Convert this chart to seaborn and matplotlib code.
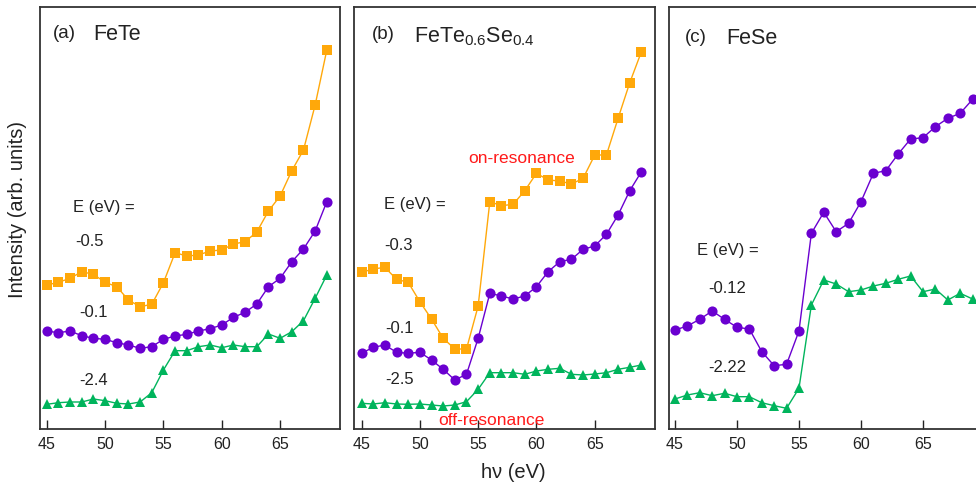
import numpy as np
import pandas as pd
import seaborn as sns
import matplotlib
matplotlib.use("Agg")
import matplotlib.pyplot as plt

sns.set_theme(style="white")
plt.rcParams['font.family'] = ['Liberation Sans', 'DejaVu Sans']
plt.rcParams['mathtext.fontset'] = 'custom'
plt.rcParams['mathtext.rm'] = 'Liberation Sans'
plt.rcParams['mathtext.it'] = 'Liberation Sans'
plt.rcParams['mathtext.default'] = 'regular'

hv = list(range(45, 70))

# Panel (a) FeTe
fete_on = [144, 146.7, 150.7, 157.3, 154.7, 146.7, 142.3, 129, 122.3, 124.7, 146.3, 176.3, 173, 174,
           178, 179, 185, 187.3, 197, 218, 233, 258.3, 279, 324, 379]
fete_mid = [98, 96.3, 98, 93.3, 90.7, 89.7, 86.3, 84, 80.7, 82.3, 89.7, 93, 94.7, 98, 100.3, 104,
            111.7, 116.7, 125, 142.3, 150.7, 167.3, 180, 198, 227.3]
fete_off = [24.7, 26.3, 27, 27, 30, 28.3, 25.7, 25, 27, 36.3, 59, 78.3, 78.3, 82.3, 84, 81.3, 84,
            82.3, 82.3, 95, 90.7, 97.3, 108.3, 130.7, 154]

# Panel (b) FeTe0.6Se0.4
fts_on = [156.7, 160, 161.7, 149.7, 146.7, 127.3, 110, 90.7, 80, 80, 123, 227.3, 223.3, 224.7, 238.3,
          255.7, 249, 248, 245, 250.7, 274, 274, 310.7, 346.3, 377.3]
fts_mid = [75.7, 81.7, 84, 76.7, 75.7, 76.7, 69, 59.7, 49, 54.7, 90.7, 135.7, 133, 130, 133, 142.3,
           157.3, 167.3, 169.7, 179.7, 183, 194.7, 214, 238.3, 257.3]
fts_off = [25.7, 25, 26.3, 25, 24.7, 25, 24, 23, 24, 27.3, 39.7, 56.3, 56.3, 56.3, 54.7, 58, 59.7,
           60.7, 54.7, 54, 55, 56.3, 59.7, 61.7, 64]

# Panel (c) FeSe
fese_on = [99, 103, 109.7, 118, 109.7, 101.7, 100, 77.3, 63.3, 64.7, 98, 195.7, 216.7, 197.3, 205.7,
           227.3, 255.7, 258.3, 275, 290, 291.3, 302.3, 310.7, 315.7, 329.7]
fese_off = [30, 34, 36.3, 33.3, 35.7, 32.3, 32.3, 26.3, 23.3, 20.7, 40.7, 124, 149, 145, 137.3, 139,
            143, 145.7, 149.7, 153, 137.3, 140, 129, 135.7, 130]

xticks = [45, 50, 55, 60, 65]

ORANGE = "#FFA80A"
PURPLE = "#6A00D0"
GREEN = "#00B45C"
TXT = "#222222"

W, H = 976, 486
fig = plt.figure(figsize=(W / 100, H / 100), dpi=100)

def add_ax(x0, w, xlim):
    ax = fig.add_axes([x0 / W, 1 - 429 / H, w / W, 422 / H])
    ax.set_xlim(*xlim)
    ax.set_ylim(0, 422)
    ax.set_yticks([])
    ax.set_xticks(xticks)
    ax.tick_params(axis='x', direction='in', length=6.5, width=1.0, color='#222222',
                   labelsize=11.5, labelcolor=TXT, pad=6, bottom=True)
    for s in ax.spines.values():
        s.set_color('#333333')
        s.set_linewidth(1.3)
    return ax

axa = add_ax(39.5, 300.5, (44.38, 70.13))
axb = add_ax(354.3, 300.3, (44.38, 70.13))
axc = add_ax(669, 318, (44.52, 70.16))

def series(ax, y, color, marker, ms):
    df = pd.DataFrame({"hv": hv, "I": y})
    sns.lineplot(data=df, x="hv", y="I", ax=ax, color=color, linewidth=1.0,
                 marker=marker, markersize=ms, markeredgewidth=0, markeredgecolor=color)

for ax, ys in [(axa, (fete_on, fete_mid, fete_off)), (axb, (fts_on, fts_mid, fts_off))]:
    series(ax, ys[0], ORANGE, 's', 6.6)
    series(ax, ys[1], PURPLE, 'o', 7.3)
    series(ax, ys[2], GREEN, '^', 7.8)
series(axc, fese_on, PURPLE, 'o', 7.3)
series(axc, fese_off, GREEN, '^', 7.8)

for ax in (axa, axb, axc):
    ax.set_xlabel("")
    ax.set_ylabel("")

def t(ax, x, y, s, size=12, color=TXT, **kw):
    ax.text(x, y, s, transform=ax.transAxes, fontsize=size, color=color,
            ha='left', va='center', **kw)

t(axa, 0.045, 0.938, "(a)", 13.5)
t(axa, 0.178, 0.936, "FeTe", 15.5)
t(axa, 0.111, 0.526, "E (eV) =", 12)
t(axa, 0.118, 0.445, "-0.5", 12)
t(axa, 0.131, 0.275, "-0.1", 12)
t(axa, 0.131, 0.116, "-2.4", 12)

t(axb, 0.058, 0.934, "(b)", 13.5)
t(axb, 0.200, 0.930, r"FeTe$_{0.6}$Se$_{0.4}$", 15.5)
t(axb, 0.099, 0.531, "E (eV) =", 12)
t(axb, 0.099, 0.436, "-0.3", 12)
t(axb, 0.102, 0.237, "-0.1", 12)
t(axb, 0.102, 0.118, "-2.5", 12)
t(axb, 0.379, 0.642, "on-resonance", 12.5, color="#FF1A1A")
t(axb, 0.278, 0.020, "off-resonance", 12.5, color="#FF1A1A")

t(axc, 0.050, 0.927, "(c)", 13.5)
t(axc, 0.179, 0.925, "FeSe", 15.5)
t(axc, 0.088, 0.424, "E (eV) =", 12)
t(axc, 0.123, 0.332, "-0.12", 12)
t(axc, 0.123, 0.145, "-2.22", 12)

fig.text(18 / W, 1 - 210 / H, "Intensity (arb. units)", rotation=90, ha='center', va='center',
         fontsize=14.5, color=TXT)
fig.text(513 / W, 1 - 472 / H, "hν (eV)", ha='center', va='center', fontsize=14.5, color=TXT)

fig.savefig("out.png", dpi=100)
